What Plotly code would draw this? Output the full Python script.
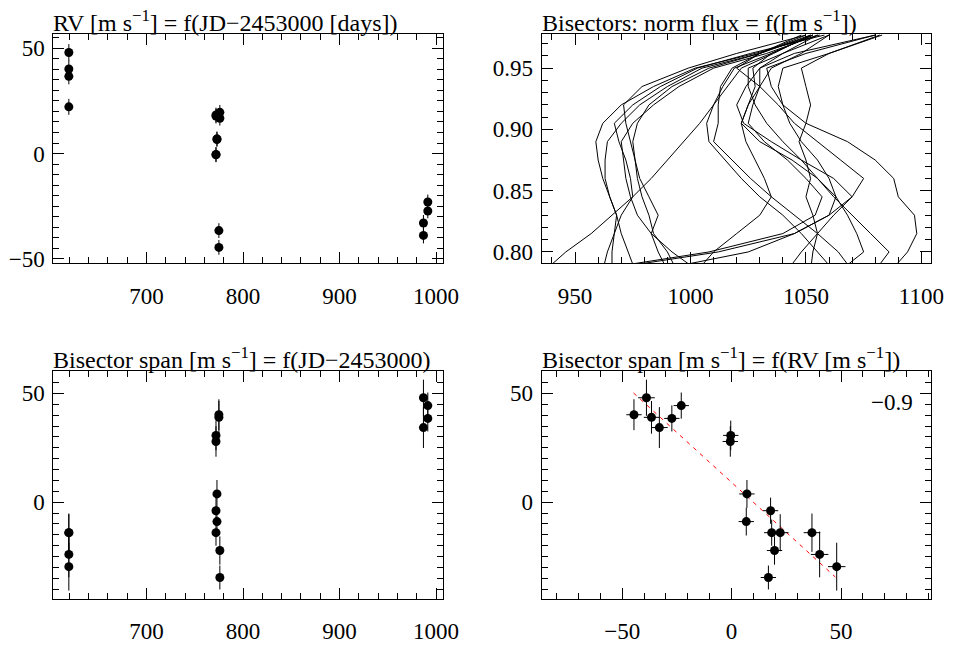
import plotly.graph_objects as go

# ---------------- data ----------------
jd = [619.5, 619.5, 619.5, 619.5,
      775, 775, 772, 772, 773, 773, 772, 772, 776, 776,
      987, 987, 991.5, 991.5]
rv = [48.0, 40.2, 36.7, 22.2,
      -44.6, -36.6, -0.4, -0.6, 7.0, 6.7, 17.8, 18.3, 19.6, 16.8,
      -38.9, -33.0, -27.3, -23.0]
rv_err = [4.0, 4.0, 3.8, 3.8,
          3.5, 3.5, 3.5, 3.5, 3.5, 3.5, 3.5, 3.5, 3.5, 3.5,
          3.8, 3.8, 3.5, 3.5]
bis = [-29.6, -24.0, -14.0, -14.0,
       40.2, 39.0, 30.7, 27.9, 3.8, -8.9, -3.9, -14.0, -22.2, -34.6,
       48.0, 34.3, 38.5, 44.4]
bis_err = [11.0, 10.5, 8.8, 8.5,
           7.1, 7.5, 6.8, 7.0, 6.4, 6.4, 6.0, 6.0, 6.5, 5.5,
           8.3, 9.4, 6.0, 6.0]

fit_rv = [-44.8, 47.4]
fit_bis = [50.2, -34.4]
corr_text = "−0.9"

# bisector curves: velocity [m/s] at each normalised flux level
flux_levels = [0.785, 0.800, 0.815, 0.830, 0.845, 0.860, 0.875,
               0.890, 0.905, 0.920, 0.935, 0.950, 0.962, 0.977]
bisectors = [
    [994, 990, 984, 982, 979, 977, 976, 974, 972, 971, 979, 999, 1020, 1050],
    [966, 966, 967, 968, 965, 963, 963, 964, 970, 978, 990, 1005, 1030, 1053],
    [1003, 992, 983, 977, 974, 972, 971, 970, 975, 984, 995, 1010, 1033, 1055],
    [990, 986, 983, 986, 982, 978, 976, 975, 977, 982, 992, 1008, 1030, 1052],
    [962, 964, 967, 970, 975, 974, 972, 969, 967, 975, 987, 1003, 1026, 1058],
    [976, 973, 970, 968, 965, 962, 960, 959, 962, 970, 984, 1002, 1028, 1056],
    [937, 946, 957, 966, 975, 983, 990, 997, 1004, 1010, 1016, 1022, 1036, 1052],
    [1062, 1055, 1048, 1040, 1030, 1022, 1015, 1008, 1007, 1010, 1014, 1019, 1035, 1053],
    [1070, 1064, 1055, 1045, 1035, 1026, 1018, 1010, 1012, 1012, 1013, 1018, 1030, 1050],
    [957, 1008, 1040, 1054, 1057, 1050, 1042, 1032, 1025, 1027, 1030, 1030, 1040, 1055],
    [960, 1012, 1045, 1060, 1063, 1055, 1044, 1030, 1022, 1025, 1028, 1027, 1035, 1053],
    [985, 1025, 1045, 1060, 1070, 1062, 1048, 1035, 1023, 1020, 1024, 1030, 1045, 1080],
    [1003, 1010, 1020, 1030, 1035, 1032, 1028, 1024, 1022, 1025, 1030, 1035, 1048, 1060],
    [1052, 1053, 1055, 1053, 1050, 1052, 1050, 1047, 1050, 1052, 1050, 1048, 1060, 1083],
    [1087, 1094, 1098, 1097, 1090, 1088, 1080, 1068, 1050, 1040, 1035, 1033, 1050, 1080],
    [1065, 1075, 1072, 1068, 1063, 1060, 1055, 1048, 1043, 1040, 1038, 1040, 1060, 1082],
    [1080, 1086, 1078, 1070, 1062, 1055, 1048, 1040, 1033, 1028, 1025, 1025, 1040, 1060],
    [1042, 1048, 1055, 1062, 1070, 1075, 1065, 1055, 1045, 1038, 1030, 1020, 1030, 1048],
]

titles = [
    "RV [m s<sup>−1</sup>] = f(JD−2453000 [days])",
    "Bisectors: norm flux = f([m s<sup>−1</sup>])",
    "Bisector span [m s<sup>−1</sup>] = f(JD−2453000)",
    "Bisector span [m s<sup>−1</sup>] = f(RV [m s<sup>−1</sup>])",
]

# ---------------- layout geometry ----------------
W, H = 966, 646
FONT = "Liberation Serif, Times New Roman, serif"
TICK_SIZE = 23
TITLE_SIZE = 24
xdom_l = [54.3 / W, 450.7 / W]
xdom_r = [550.7 / W, 946.3 / W]
ydom_t = [(H - 266.7) / H, (H - 34.3) / H]
ydom_b = [(H - 607.3) / H, (H - 376.0) / H]


def axis(dom, rng, dtick, mdtick, anchor, standoff, tickformat=None):
    d = dict(domain=dom, range=rng, dtick=dtick, tick0=0, anchor=anchor,
             showline=True, linecolor="black", linewidth=1, mirror="allticks",
             ticks="inside", ticklen=11, tickwidth=1, tickcolor="black",
             showgrid=False, zeroline=False, ticklabelstandoff=standoff,
             tickfont=dict(family=FONT, size=TICK_SIZE, color="black"),
             minor=dict(ticks="inside", ticklen=6, tickwidth=1, tickcolor="black",
                        dtick=mdtick, tick0=0, showgrid=False))
    if tickformat:
        d["tickformat"] = tickformat
    return d


fig = go.Figure()

mk = dict(color="black", size=9)
eb = dict(type="data", color="black", thickness=1, width=0)

# panel 1: RV vs JD
fig.add_trace(go.Scatter(x=jd, y=rv, mode="markers", marker=mk,
                         error_y=dict(eb, array=rv_err),
                         xaxis="x", yaxis="y", showlegend=False))
# panel 2: bisectors
for b in bisectors:
    fig.add_trace(go.Scatter(x=b, y=flux_levels, mode="lines",
                             line=dict(color="black", width=1),
                             xaxis="x2", yaxis="y2", showlegend=False))
# panel 3: span vs JD
fig.add_trace(go.Scatter(x=jd, y=bis, mode="markers", marker=mk,
                         error_y=dict(eb, array=bis_err),
                         xaxis="x3", yaxis="y3", showlegend=False))
# panel 4: span vs RV
fig.add_trace(go.Scatter(x=fit_rv, y=fit_bis, mode="lines",
                         line=dict(color="red", width=1, dash="4px,5px"),
                         xaxis="x4", yaxis="y4", showlegend=False))
fig.add_trace(go.Scatter(x=rv, y=bis, mode="markers", marker=mk,
                         error_y=dict(eb, array=bis_err),
                         error_x=dict(eb, array=rv_err),
                         xaxis="x4", yaxis="y4", showlegend=False))

XS, YS = 12, 3
fig.update_layout(
    width=W, height=H, margin=dict(l=0, r=0, t=0, b=0, pad=0),
    paper_bgcolor="white", plot_bgcolor="white",
    font=dict(family=FONT, size=TICK_SIZE, color="black"),
    xaxis=axis(xdom_l, [603.5, 1007.5], 100, 20, "y", XS),
    yaxis=axis(ydom_t, [-52.0, 56.9], 50, 5, "x", YS),
    xaxis2=axis(xdom_r, [935.5, 1104.0], 50, 10, "y2", XS),
    yaxis2=axis(ydom_t, [0.791, 0.978], 0.05, 0.01, "x2", YS, tickformat=".2f"),
    xaxis3=axis(xdom_l, [603.5, 1007.5], 100, 20, "y3", XS),
    yaxis3=axis(ydom_b, [-44.4, 60.4], 50, 5, "x3", YS),
    xaxis4=axis(xdom_r, [-86.8, 90.9], 50, 10, "y4", XS),
    yaxis4=axis(ydom_b, [-44.4, 60.4], 50, 5, "x4", YS),
)

anns = []
for t, xd, yd in [(titles[0], xdom_l, ydom_t), (titles[1], xdom_r, ydom_t),
                  (titles[2], xdom_l, ydom_b), (titles[3], xdom_r, ydom_b)]:
    anns.append(dict(text=t, xref="paper", yref="paper", x=xd[0], y=yd[1],
                     xanchor="left", yanchor="bottom", showarrow=False,
                     font=dict(family=FONT, size=TITLE_SIZE, color="black"),
                     xshift=-2, yshift=-4))
anns.append(dict(text=corr_text, xref="paper", yref="paper",
                 x=930 / W, y=(H - 408) / H, xanchor="right", yanchor="middle",
                 showarrow=False, font=dict(family=FONT, size=TICK_SIZE, color="black")))
fig.update_layout(annotations=anns)

post = ("document.documentElement.style.overflow='hidden';"
        "document.body.style.margin='0';"
        "document.body.style.padding='0';"
        "document.body.style.overflow='hidden';")
fig.write_html("out.html", config={"displayModeBar": False}, post_script=post)
